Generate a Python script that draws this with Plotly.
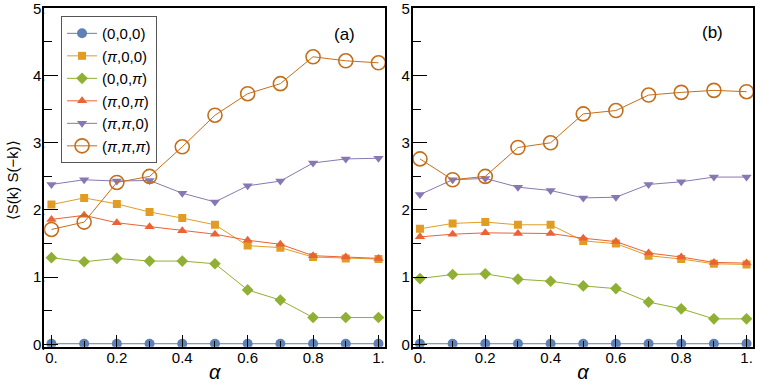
import plotly.graph_objects as go

alpha = [0.0, 0.1, 0.2, 0.3, 0.4, 0.5, 0.6, 0.7, 0.8, 0.9, 1.0]

labels = ["(0,0,0)", "(<i>π</i>,0,0)", "(0,0,<i>π</i>)", "(<i>π</i>,0,<i>π</i>)", "(<i>π</i>,<i>π</i>,0)", "(<i>π</i>,<i>π</i>,<i>π</i>)"]

# panel (a)
a_000 = [0.01] * 11
a_p00 = [2.08, 2.18, 2.09, 1.97, 1.88, 1.78, 1.47, 1.44, 1.30, 1.28, 1.27]
a_00p = [1.29, 1.23, 1.28, 1.24, 1.24, 1.20, 0.81, 0.66, 0.40, 0.40, 0.40]
a_p0p = [1.86, 1.92, 1.81, 1.75, 1.69, 1.64, 1.55, 1.49, 1.32, 1.30, 1.28]
a_pp0 = [2.38, 2.45, 2.43, 2.44, 2.25, 2.12, 2.36, 2.43, 2.70, 2.76, 2.77]
a_ppp = [1.71, 1.82, 2.41, 2.50, 2.94, 3.41, 3.73, 3.88, 4.28, 4.22, 4.19]

# panel (b)
b_000 = [0.01] * 11
b_p00 = [1.72, 1.80, 1.82, 1.78, 1.78, 1.54, 1.50, 1.32, 1.27, 1.20, 1.19]
b_00p = [0.98, 1.04, 1.05, 0.97, 0.94, 0.87, 0.83, 0.63, 0.53, 0.38, 0.38]
b_p0p = [1.60, 1.64, 1.66, 1.65, 1.65, 1.58, 1.53, 1.36, 1.30, 1.22, 1.21]
b_pp0 = [2.23, 2.45, 2.47, 2.34, 2.29, 2.18, 2.19, 2.38, 2.42, 2.49, 2.49]
b_ppp = [2.76, 2.45, 2.50, 2.93, 3.00, 3.43, 3.48, 3.71, 3.75, 3.78, 3.76]

x_ticks = [0, 0.2, 0.4, 0.6, 0.8, 1.0]
x_ticktext = ["0.", "0.2", "0.4", "0.6", "0.8", "1."]
y_ticks = [0, 1, 2, 3, 4, 5]
y_ticktext = ["0.", "1.", "2.", "3.", "4.", "5."]

colors = ["#5E81B5", "#E19C24", "#8FB032", "#EB6235", "#8778B3", "#C56E1A"]
symbols = ["circle", "square", "diamond", "triangle-up", "triangle-down", "circle-open"]
sizes = [10, 8, 9, 9, 9, 14]

fig = go.Figure()

panels = [
    ("x", "y", [a_000, a_p00, a_00p, a_p0p, a_pp0, a_ppp], True),
    ("x2", "y2", [b_000, b_p00, b_00p, b_p0p, b_pp0, b_ppp], False),
]
for xa, ya, series, show in panels:
    for i, vals in enumerate(series):
        fig.add_trace(go.Scatter(
            x=alpha, y=vals, xaxis=xa, yaxis=ya,
            mode="lines+markers", name=labels[i], showlegend=show,
            line=dict(color=colors[i], width=1),
            marker=dict(symbol=symbols[i], size=sizes[i], color=colors[i],
                        line=dict(color=colors[i], width=1.6 if i == 5 else 0)),
        ))

axis_common = dict(
    showgrid=False, zeroline=False, showline=True, linecolor="black", linewidth=1.6,
    mirror=True, ticks="inside", tickwidth=1.4, tickcolor="black",
    tickfont=dict(size=15, color="black"), automargin=False, ticklabeloverflow="allow",
)
xaxis_common = dict(axis_common, range=[-0.022, 1.02], tickvals=x_ticks, ticktext=x_ticktext,
                    ticklen=12, ticklabelstandoff=-3,
                    minor=dict(dtick=0.1, tick0=0, ticks="inside", ticklen=6, tickwidth=1, tickcolor="black"),
                    title=dict(text="<i>α</i>", font=dict(size=20, color="black"), standoff=0))
yaxis_common = dict(axis_common, range=[-0.034, 5.005], tickvals=y_ticks, ticktext=y_ticktext,
                    ticklen=14, ticklabelstandoff=-6,
                    minor=dict(dtick=0.5, tick0=0, ticks="inside", ticklen=8, tickwidth=1.2, tickcolor="black"))

fig.update_layout(
    width=763, height=383,
    margin=dict(l=0, r=0, t=0, b=0),
    paper_bgcolor="white", plot_bgcolor="white",
    font=dict(family="Liberation Sans, Arial, sans-serif", color="black"),
    xaxis=dict(xaxis_common, domain=[0.058, 0.5046], anchor="y"),
    yaxis=dict(yaxis_common, domain=[0.0948, 0.979], anchor="x"),
    xaxis2=dict(xaxis_common, domain=[0.541, 0.987], anchor="y2"),
    yaxis2=dict(yaxis_common, domain=[0.0948, 0.979], anchor="x2"),
    legend=dict(x=0.08, y=0.958, xanchor="left", yanchor="top",
                bgcolor="white", bordercolor="#555555", borderwidth=1,
                font=dict(size=15, color="black"), itemwidth=30, tracegroupgap=0),
    annotations=[
        dict(text="⟨S(k) S(−k)⟩", x=0.016, y=0.53, xref="paper", yref="paper",
             xanchor="center", yanchor="middle",
             textangle=-90, showarrow=False, font=dict(size=15, color="black")),
        dict(text="(a)", x=0.452, y=0.91, xref="paper", yref="paper",
             xanchor="center", yanchor="middle",
             showarrow=False, font=dict(size=17, color="black")),
        dict(text="(b)", x=0.934, y=0.914, xref="paper", yref="paper",
             xanchor="center", yanchor="middle",
             showarrow=False, font=dict(size=17, color="black")),
    ],
)

fig.write_html("out.html", config={"displayModeBar": False},
               post_script="document.body.style.margin='0';")
